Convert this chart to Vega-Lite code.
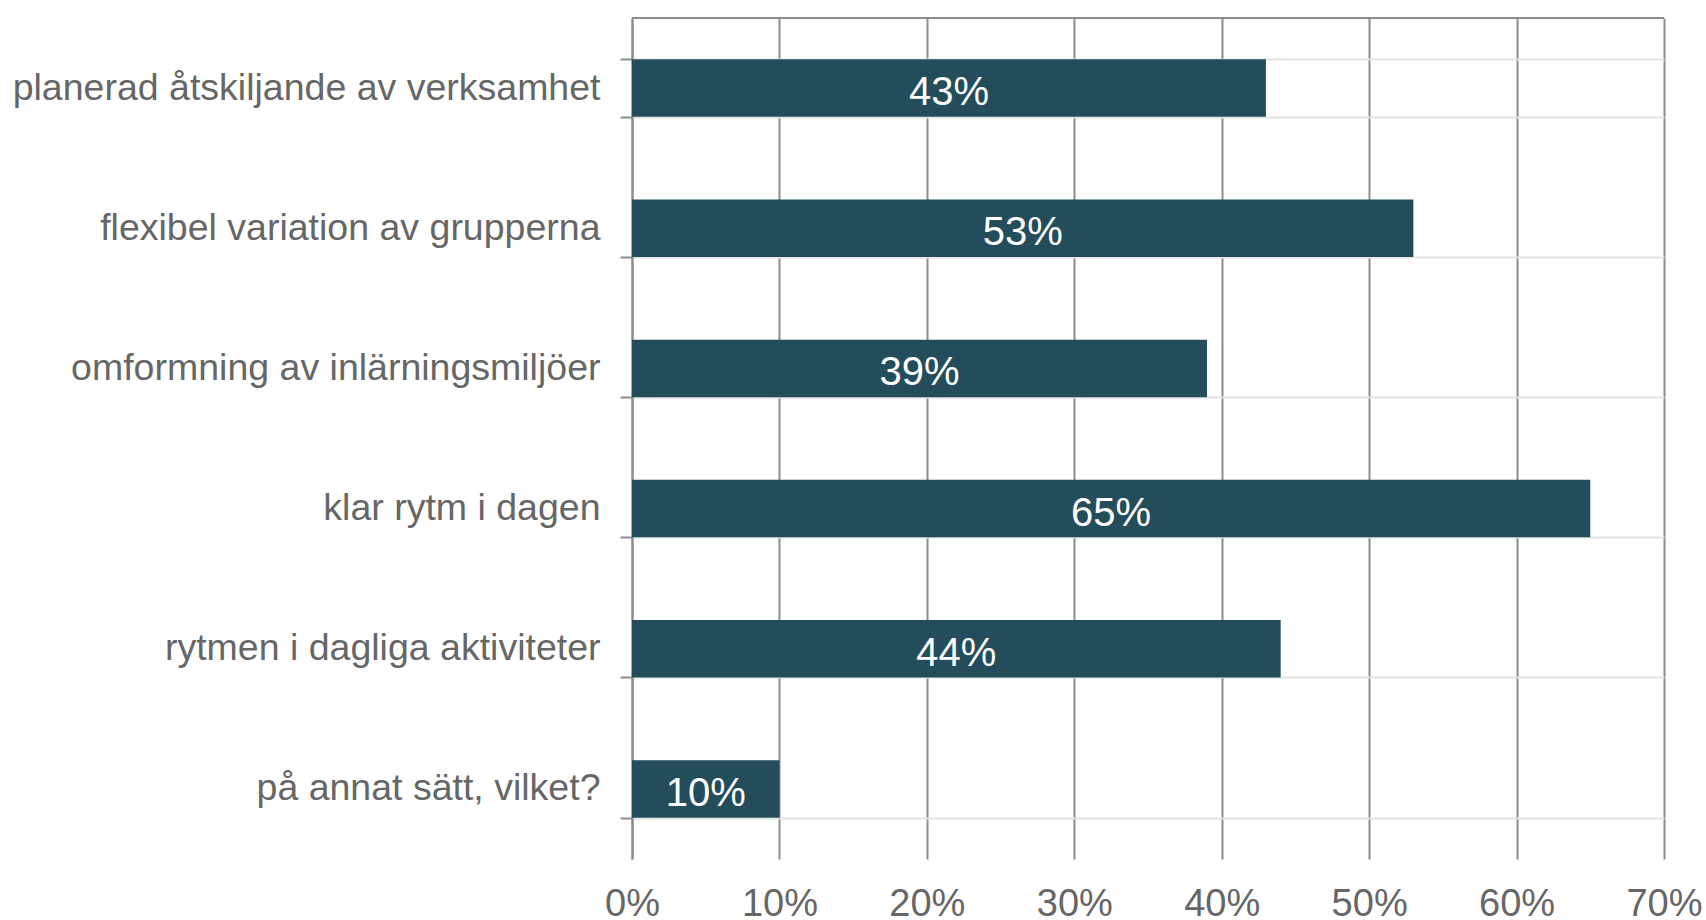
{
  "$schema": "https://vega.github.io/schema/vega-lite/v6.json",
  "width": 1032,
  "height": 841,
  "autosize": {"type": "none"},
  "padding": {"left": 632, "top": 18, "right": 42, "bottom": 61},
  "background": "white",
  "config": {"view": {"stroke": null}, "font": "Liberation Sans"},
  "data": {
    "values": [
      {"kategori": "planerad åtskiljande av verksamhet", "andel": 0.43},
      {"kategori": "flexibel variation av grupperna", "andel": 0.53},
      {"kategori": "omformning av inlärningsmiljöer", "andel": 0.39},
      {"kategori": "klar rytm i dagen", "andel": 0.65},
      {"kategori": "rytmen i dagliga aktiviteter", "andel": 0.44},
      {"kategori": "på annat sätt, vilket?", "andel": 0.10}
    ]
  },
  "encoding": {
    "y": {
      "field": "kategori",
      "type": "nominal",
      "sort": null,
      "scale": {"paddingInner": 0.59, "paddingOuter": 0.295},
      "axis": {
        "title": null,
        "orient": "left",
        "tickBand": "extent",
        "grid": true,
        "gridColor": "#e3e3e3",
        "gridWidth": 2,
        "domain": true,
        "domainColor": "#8c8c8c",
        "domainWidth": 2,
        "ticks": true,
        "tickColor": "#8c8c8c",
        "tickWidth": 2,
        "tickSize": 12,
        "labelFontSize": 37.5,
        "labelColor": "#666666",
        "labelPadding": 20,
        "labelLimit": 700,
        "labelFont": "Liberation Sans"
      }
    }
  },
  "resolve": {"scale": {"x": "independent"}},
  "layer": [
    {
      "mark": {"type": "bar", "color": "#234d5b"},
      "encoding": {
        "x": {
          "field": "andel",
          "type": "quantitative",
          "scale": {"domain": [0, 0.7], "nice": false},
          "axis": {
            "title": null,
            "format": ".0%",
            "values": [0, 0.1, 0.2, 0.3, 0.4, 0.5, 0.6, 0.7],
            "grid": true,
            "gridColor": "#8c8c8c",
            "gridWidth": 2,
            "domain": false,
            "ticks": false,
            "labelFontSize": 38,
            "labelColor": "#666666",
            "labelPadding": 26,
            "labelFont": "Liberation Sans",
            "labelFlush": false,
            "labelOverlap": false
          }
        },
        "x2": {"datum": 0}
      }
    },
    {
      "mark": {"type": "rule", "color": "#8c8c8c", "strokeWidth": 2},
      "encoding": {
        "x": {"value": 0},
        "x2": {"value": 1032},
        "y": {"value": 0}
      }
    },
    {
      "mark": {"type": "text", "color": "white", "fontSize": 40, "font": "Liberation Sans", "align": "center", "baseline": "middle", "dy": 5},
      "encoding": {
        "x": {"field": "andel", "type": "quantitative", "scale": {"domain": [0, 1.4], "nice": false, "zero": true}, "axis": null},
        "text": {"field": "andel", "type": "quantitative", "format": ".0%"}
      }
    }
  ]
}
